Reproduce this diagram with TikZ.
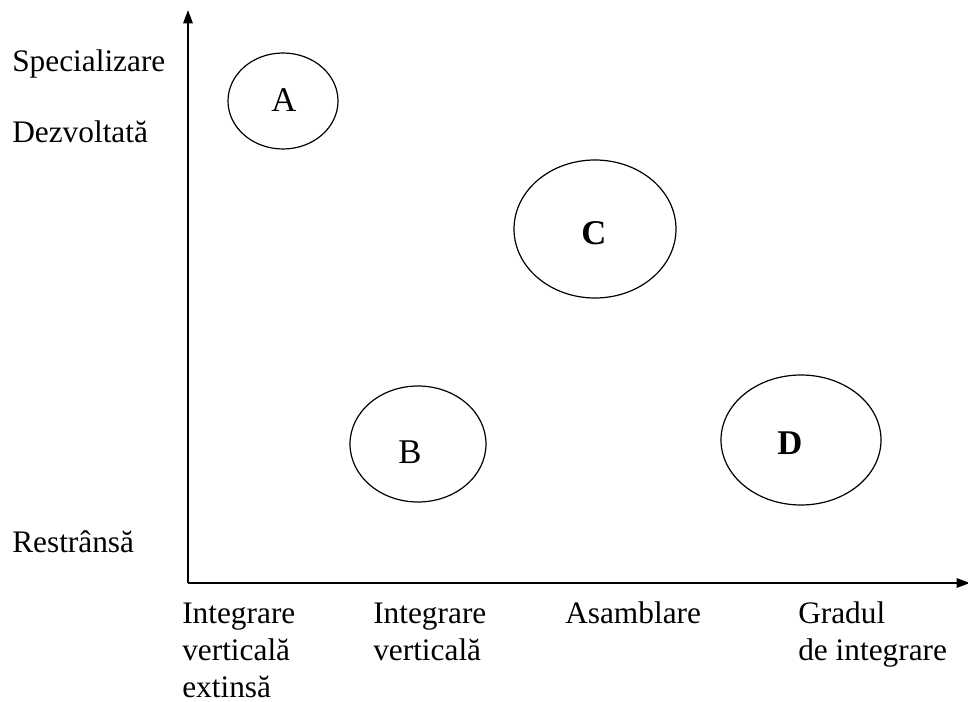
\documentclass[tikz,border=0pt]{standalone}
\usepackage{fontspec}
\setmainfont{Liberation Serif}
\usetikzlibrary{shapes.geometric,arrows.meta}

\begin{document}
\begin{tikzpicture}[x=0.75pt,y=-0.75pt,
    lbl/.style={anchor=base west,font=\fontsize{23.5}{28}\selectfont,inner sep=0pt},
    letter/.style={font=\fontsize{26}{30}\selectfont,inner sep=0pt},
    blob/.style={draw,ellipse,line width=0.9pt,inner sep=0pt}]
    \useasboundingbox (0,0) rectangle (968,702);
    % Draw the axes
    \coordinate (o) at (188,583);
    \coordinate (ytop) at (188,10);
    \coordinate (xend) at (970,583);
    \draw[line width=1.4pt,-{Triangle[length=10pt,width=7pt]}] (o) -- (ytop);
    \draw[line width=1.4pt,-{Triangle[length=10pt,width=7pt]}] (o) -- (xend);
    % Labels on the vertical axis
    \node[lbl] (spec) at (12,72) {Specializare};
    \node[lbl] (dezv) at (12,143) {Dezvoltată};
    \node[lbl] (restr) at (12,552) {Restrânsă};
    % Labels on the horizontal axis
    \node[lbl] (iv1) at (182,623) {Integrare};
    \node[lbl] (iv2) at (182,660) {verticală};
    \node[lbl] (iv3) at (182,697) {extinsă};
    \node[lbl] (ivb1) at (373,623) {Integrare};
    \node[lbl] (ivb2) at (373,660) {verticală};
    \node[lbl] (asam) at (565,623) {Asamblare};
    \node[lbl] (grad1) at (798,623) {Gradul};
    \node[lbl] (grad2) at (798,660) {de integrare};
    % The four groups (sizes in pt = px * 0.75)
    \node[blob,minimum width=82.5pt,minimum height=72pt] (a) at (283,101) {};
    \node[blob,minimum width=121.5pt,minimum height=103.5pt] (c) at (595,229) {};
    \node[blob,minimum width=102pt,minimum height=87pt] (b) at (418,444) {};
    \node[blob,minimum width=120pt,minimum height=97.5pt] (d) at (801,440) {};
    \node[letter] (al) at (284,100) {A};
    \node[letter] (cl) at (594,233) {\textbf{C}};
    \node[letter] (bl) at (410,452) {B};
    \node[letter] (dl) at (790,443) {\textbf{D}};
\end{tikzpicture}
\end{document}
